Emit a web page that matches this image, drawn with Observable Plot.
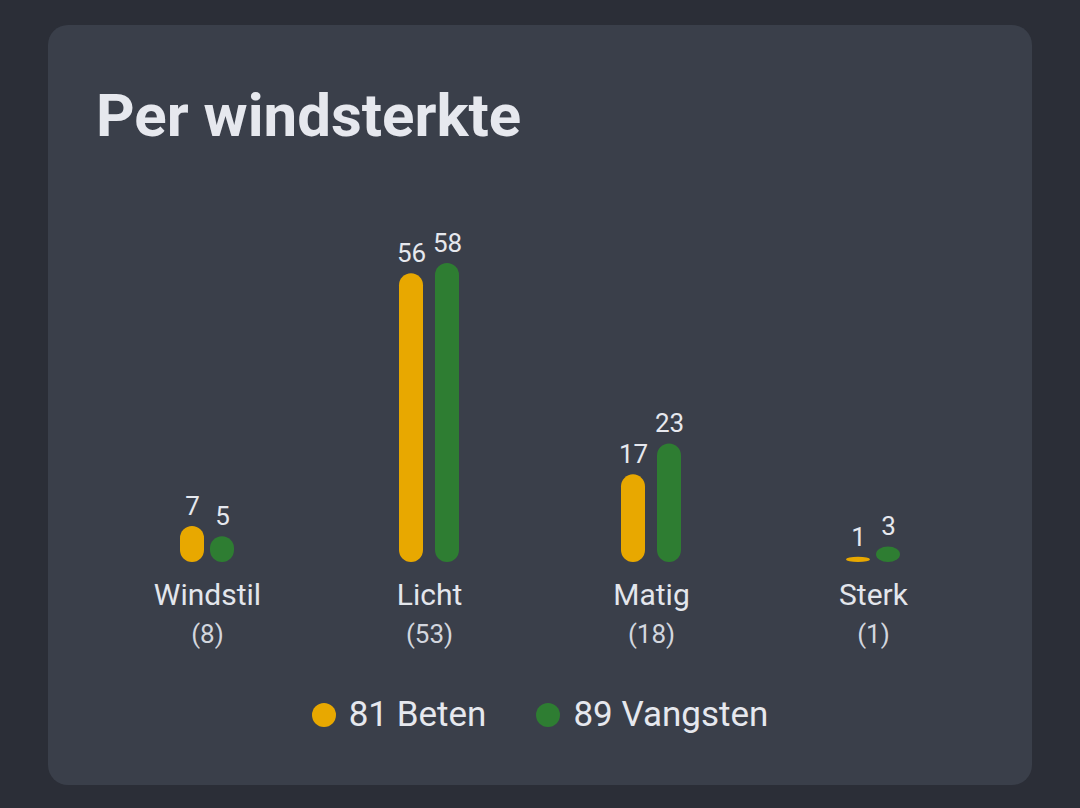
<!DOCTYPE html>
<html><head><meta charset="utf-8">
<script src="https://cdn.jsdelivr.net/npm/d3@7"></script>
<script src="https://cdn.jsdelivr.net/npm/@observablehq/plot@0.6"></script>
<style>
html,body{margin:0;padding:0;background:#2b2e37;width:1080px;height:808px;overflow:hidden;font-family:Roboto,"Noto Sans",sans-serif;}
#card{position:absolute;left:48px;top:25px;width:984px;height:760px;background:#3a3f4a;border-radius:20px;}
#title{position:absolute;left:96px;top:78px;font-size:60px;font-weight:700;color:#e6e8ee;line-height:76px;margin:0;white-space:nowrap;}
#chart{position:absolute;left:0;top:180px;}
#legend{position:absolute;left:0;width:1080px;top:693px;display:flex;justify-content:center;align-items:center;gap:50px;font-size:35px;color:#e6e8ee;line-height:44px;}
.item{display:flex;align-items:center;gap:13px;}
.dot{width:24px;height:24px;border-radius:50%;display:inline-block;}
</style></head>
<body>
<div id="card"></div>
<h1 id="title">Per windsterkte</h1>
<div id="chart"></div>
<div id="legend"></div>
<script>
const categories = ["Windstil", "Licht", "Matig", "Sterk"];
const counts = [8, 53, 18, 1];
const series = ["Beten", "Vangsten"];
const beten = [7, 56, 17, 1];
const vangsten = [5, 58, 23, 3];
const totals = [81, 89];
const colors = ["#e8a800", "#2e7d32"];

// a group is "wide" when any of its value labels has two digits
const wide = categories.map((c, i) => String(beten[i]).length > 1 || String(vangsten[i]).length > 1);
const rows = [];
categories.forEach((c, i) => {
  rows.push({cat: c, series: "Beten", value: beten[i], wide: wide[i]});
  rows.push({cat: c, series: "Vangsten", value: vangsten[i], wide: wide[i]});
});
const cats = categories.map((c, i) => ({cat: c, count: counts[i]}));

const narrowRows = rows.filter(d => !d.wide);
const wideB = rows.filter(d => d.wide && d.series === "Beten");
const wideV = rows.filter(d => d.wide && d.series === "Vangsten");

const barOpts = {fx: "cat", x: "series", y: "value", fill: "series", rx: 12};
const txtOpts = {fx: "cat", x: "series", y: "value", text: d => String(d.value), dy: -20, fill: "#e6e8ee", fontSize: 26};

const plot = Plot.plot({
  width: 1080,
  height: 480,
  marginLeft: 96,
  marginRight: 96,
  marginTop: 83,
  marginBottom: 98,
  style: {background: "transparent", fontFamily: "Roboto, sans-serif", overflow: "visible"},
  fx: {domain: categories, padding: 0, axis: null},
  x: {domain: series, range: [177, 237], padding: 0, axis: null},
  y: {domain: [0, 58], axis: null},
  color: {domain: series, range: colors},
  marks: [
    Plot.barY(narrowRows, {...barOpts, insetLeft: 3, insetRight: 3}),
    Plot.barY(wideB, {...barOpts, insetLeft: 0, insetRight: 6}),
    Plot.barY(wideV, {...barOpts, insetLeft: 6, insetRight: 0}),
    Plot.text(narrowRows, txtOpts),
    Plot.text(wideB, {...txtOpts, dx: -3}),
    Plot.text(wideV, {...txtOpts, dx: 3}),
    Plot.text(cats, {fx: "cat", frameAnchor: "bottom", text: "cat", dy: 42, fontSize: 30, fill: "#e3e6ec"}),
    Plot.text(cats, {fx: "cat", frameAnchor: "bottom", text: d => `(${d.count})`, dy: 80, fontSize: 26, fill: "#d2d6de"})
  ]
});
document.getElementById("chart").appendChild(plot);

const legend = document.getElementById("legend");
series.forEach((s, i) => {
  const it = document.createElement("div");
  it.className = "item";
  it.innerHTML = `<span class="dot" style="background:${colors[i]}"></span><span>${totals[i]} ${s}</span>`;
  legend.appendChild(it);
});
</script>
</body></html>
